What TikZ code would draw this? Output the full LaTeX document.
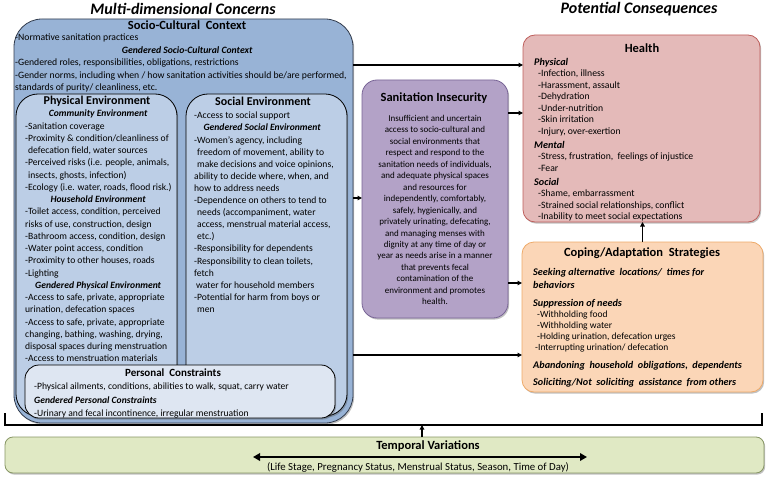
\documentclass[tikz,border=0pt]{standalone}
\usepackage{fontspec}
\setmainfont{Carlito}
\usetikzlibrary{shadows,arrows.meta}
\setlength{\parindent}{0pt}
\definecolor{socioF}{RGB}{152,179,214}
\definecolor{socioD}{RGB}{50,60,78}
\definecolor{innerF}{RGB}{188,206,230}
\definecolor{persF}{RGB}{222,230,242}
\definecolor{sanF}{RGB}{179,162,199}
\definecolor{sanD}{RGB}{120,100,150}
\definecolor{healthF}{RGB}{228,186,185}
\definecolor{healthD}{RGB}{190,95,92}
\definecolor{copF}{RGB}{251,214,183}
\definecolor{copD}{RGB}{238,170,105}
\definecolor{tempF}{RGB}{224,233,196}
\definecolor{tempD}{RGB}{135,150,100}
% centred bold-italic heading: #1 = twice the distance from line start to centre
\newcommand{\hd}[2]{\leavevmode\rlap{\makebox[#1][c]{\textbf{\textit{#2}}}}}
\newcommand{\bi}[1]{{\fontsize{10.2}{11}\selectfont\textbf{\textit{#1}}}}
\begin{document}
\begin{tikzpicture}[x=1pt,y=-1pt,
  box/.style={draw, anchor=north west, inner sep=0pt, outer sep=0pt, line width=0.8pt},
  shad/.style={drop shadow={shadow xshift=1.2pt, shadow yshift=-1.6pt, opacity=0.35, fill=black!70}},
  ttl/.style={inner sep=0pt, font=\fontsize{12.5}{14}\selectfont\bfseries},
  bigttl/.style={inner sep=0pt, font=\fontsize{16}{18}\selectfont\bfseries\itshape},
  blk/.style={anchor=north west, inner sep=0pt, align=left},
  arr/.style={line width=1.2pt, -{Triangle[length=4.5pt,width=4.5pt]}},
]
\useasboundingbox (0,0) rectangle (767,478);

% titles
\node[bigttl] (tmd) at (183,9) {Multi-dimensional Concerns};
\node[bigttl] (tpc) at (639,9) {Potential Consequences};

% boxes
\node[box, shad, fill=socioF, draw=socioD, rounded corners=28pt, minimum width=339pt, minimum height=404pt] (socio) at (14,19) {};
\node[box, shad, fill=innerF, draw=black, rounded corners=22pt, minimum width=161pt, minimum height=322pt] (phys) at (16,94) {};
\node[box, shad, fill=innerF, draw=black, rounded corners=22pt, minimum width=161pt, minimum height=322pt] (soc) at (186,94) {};
\node[box, shad, fill=persF, draw=black, rounded corners=14pt, minimum width=310pt, minimum height=53pt] (pers) at (25,365) {};
\node[box, shad, fill=sanF, draw=sanD, rounded corners=15pt, minimum width=146pt, minimum height=238pt] (sanit) at (362,80) {};
\node[box, shad, fill=healthF, draw=healthD, rounded corners=12pt, minimum width=237pt, minimum height=187pt] (health) at (523,35) {};
\node[box, shad, fill=copF, draw=copD, rounded corners=12pt, minimum width=241pt, minimum height=150pt] (coping) at (522,242) {};
\node[box, shad, fill=tempF, draw=tempD, rounded corners=8pt, minimum width=759pt, minimum height=36pt] (temporal) at (5,437) {};

% box titles
\node[ttl] (socioT) at (187,25) {Socio-Cultural\ \ Context};
\node[ttl, font=\fontsize{12}{14}\selectfont\bfseries] (physT) at (97,101) {Physical Environment};
\node[ttl, font=\fontsize{12}{14}\selectfont\bfseries] (socT) at (263,101) {Social Environment};
\node[ttl, font=\fontsize{11}{13}\selectfont\bfseries] (persT) at (173,373) {Personal\ \ Constraints};
\node[ttl] (sanT) at (434,98) {Sanitation Insecurity};
\node[ttl] (healthT) at (642,48) {Health};
\node[ttl] (copT) at (642,253) {Coping/Adaptation\ \ Strategies};
\node[ttl] (tempT) at (428,446) {Temporal Variations};

% socio text
\node[blk, font=\fontsize{9.7}{12.5}\selectfont] (socioB) at (15,34) {%
-Normative sanitation practices\\
\hd{344pt}{Gendered Socio-Cultural Context}\\
-Gendered roles, responsibilities, obligations, restrictions\\
-Gender norms, including when / how sanitation activities should be/are performed,\\
standards of purity/ cleanliness, etc.};

% physical text
\node[blk, font=\fontsize{9.6}{12.25}\selectfont] (physB) at (25,110) {%
\hd{146pt}{Community Environment}\\
-Sanitation coverage\\
-Proximity \& condition/cleanliness of\\
\hspace*{3pt}defecation field, water sources\\
-Perceived risks (i.e. people, animals,\\
\hspace*{3pt}insects, ghosts, infection)\\
-Ecology (i.e. water, roads, flood risk.)\\
\hd{146pt}{Household Environment}\\
-Toilet access, condition, perceived\\
risks of use, construction, design\\
-Bathroom access, condition, design\\
-Water point access, condition\\
-Proximity to other houses, roads\\
-Lighting\\
\hd{146pt}{Gendered Physical Environment}\\
-Access to safe, private, appropriate\\
urination, defecation spaces\\
-Access to safe, private, appropriate\\
changing, bathing, washing, drying,\\
disposal spaces during menstruation\\
-Access to menstruation materials};

% social text
\node[blk, font=\fontsize{9.6}{12.1}\selectfont] (socB) at (194,112) {%
-Access to social support\\
\hd{136pt}{Gendered Social Environment}\\
-Women’s agency, including\\
\hspace*{3pt}freedom of movement, ability to\\
\hspace*{3pt}make decisions and voice opinions,\\
ability to decide where, when, and\\
how to address needs\\
-Dependence on others to tend to\\
\hspace*{3pt}needs (accompaniment, water\\
\hspace*{3pt}access, menstrual material access,\\
\hspace*{3pt}etc.)\\
-Responsibility for dependents\\
-Responsibility to clean toilets,\\
fetch\\
\hspace*{2pt}water for household members\\
-Potential for harm from boys or\\
\hspace*{3pt}men};

% personal text
\node[blk, font=\fontsize{9.6}{13.5}\selectfont] (persB) at (34,383) {%
-Physical ailments, conditions, abilities to walk, squat, carry water\\
\textbf{\textit{Gendered Personal Constraints}}\\
-Urinary and fecal incontinence, irregular menstruation};

% sanitation text
\node[anchor=north, inner sep=0pt, align=center, font=\fontsize{9}{11.46}\selectfont] (sanB) at (435,115) {%
Insufficient and uncertain\\
access to socio-cultural and\\
social environments that\\
respect and respond to the\\
sanitation needs of individuals,\\
and adequate physical spaces\\
and resources for\\
independently, comfortably,\\
safely, hygienically, and\\
privately urinating, defecating,\\
and managing menses with\\
dignity at any time of day or\\
year as needs arise in a manner\\
that prevents fecal\\
contamination of the\\
environment and promotes\\
health.};

% health text
\node[blk, font=\fontsize{9.7}{11.5}\selectfont] (healthB) at (534,58) {%
\bi{Physical}\\
\hspace*{4pt}-Infection, illness\\
\hspace*{4pt}-Harassment, assault\\
\hspace*{4pt}-Dehydration\\
\hspace*{4pt}-Under-nutrition\\
\hspace*{4pt}-Skin irritation\\
\hspace*{4pt}-Injury, over-exertion\\[2.5pt]
\bi{Mental}\\
\hspace*{4pt}-Stress, frustration,\ \ feelings of injustice\\
\hspace*{4pt}-Fear\\[2.5pt]
\bi{Social}\\
\hspace*{4pt}-Shame, embarrassment\\
\hspace*{4pt}-Strained social relationships, conflict\\
\hspace*{4pt}-Inability to meet social expectations};

% coping text
\node[blk, font=\fontsize{9.5}{11.5}\selectfont] (copB) at (533,268) {%
\bi{Seeking alternative\ \ locations/\ \ times for}\\[1.5pt]
\bi{behaviors}\\[6.5pt]
\bi{Suppression of needs}\\
\hspace*{4pt}-Withholding food\\[-1pt]
\hspace*{4pt}-Withholding water\\[-0.5pt]
\hspace*{4pt}-Holding urination, defecation urges\\
\hspace*{2pt}-Interrupting urination/ defecation\\[6.5pt]
\bi{Abandoning\ \ household\ \ obligations,\ \ dependents}\\[5.5pt]
\bi{Soliciting/Not\ \ soliciting\ \ assistance\ \ from others}};

% temporal text
\node[inner sep=0pt, font=\fontsize{10.8}{12}\selectfont] (tempB) at (418,467) {(Life Stage, Pregnancy Status, Menstrual Status, Season, Time of Day)};
\coordinate (da1) at (253,457);
\coordinate (da2) at (587,457);
\draw[line width=2.3pt, {Triangle[length=7pt,width=7.5pt]}-{Triangle[length=7pt,width=7.5pt]}] (da1) -- (da2);

% connectors
\draw[arr] (socio.east |- 0,65) -- (health.west |- 0,65);
\draw[arr] (socio.east |- 0,198) -- (sanit.west |- 0,198);
\draw[arr] (sanit.east |- 0,113) -- (health.west |- 0,113);
\draw[arr] (sanit.east |- 0,283) -- (coping.west |- 0,283);
\draw[arr] (socio.east |- 0,355) -- (coping.west |- 0,355);
\draw[arr] (coping.north) -- (health.south -| coping.north);

% bracket
\coordinate (bl) at (5,413);
\coordinate (br) at (762,413);
\coordinate (bm) at (422,425);
\draw[line width=1.6pt] (bl) |- (br |- bm) -- (br);
\draw[arr] (temporal.north -| bm) -- (bm);
\end{tikzpicture}
\end{document}
